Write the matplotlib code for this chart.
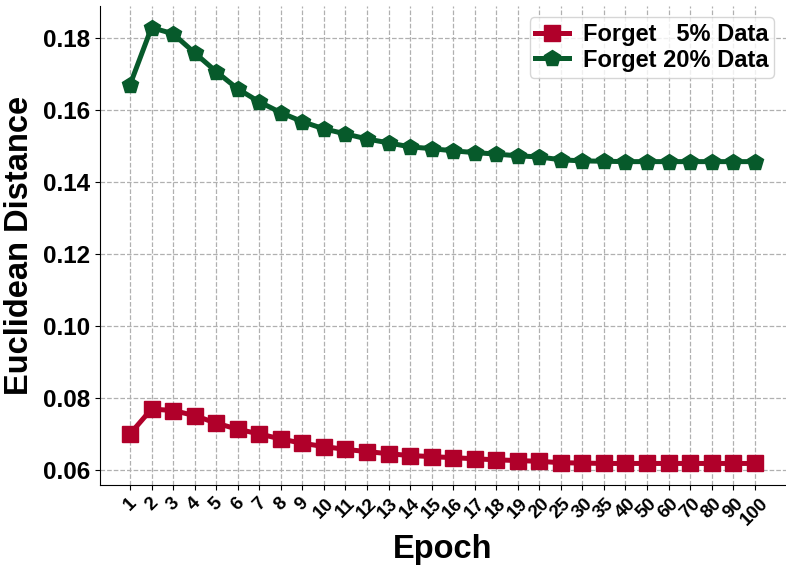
import matplotlib
matplotlib.use('Agg')
import matplotlib.pyplot as plt

plt.rcParams['font.family'] = ['Liberation Sans', 'DejaVu Sans']
plt.rcParams['font.weight'] = 'bold'

# Epochs shown on the x axis (categorical)
epochs = [1, 2, 3, 4, 5, 6, 7, 8, 9, 10, 11, 12, 13, 14, 15, 16, 17, 18, 19, 20,
          25, 30, 35, 40, 50, 60, 70, 80, 90, 100]

# Euclidean distance, forget 5% of data
dist_5 = [0.0700, 0.0769, 0.0765, 0.0751, 0.0730, 0.0713, 0.0700, 0.0686, 0.0674, 0.0665,
          0.0657, 0.0651, 0.0645, 0.0640, 0.0637, 0.0634, 0.0631, 0.0628, 0.0626, 0.0624,
          0.0620, 0.0619, 0.0618, 0.0618, 0.0618, 0.0618, 0.0618, 0.0618, 0.0618, 0.0618]

# Euclidean distance, forget 20% of data
dist_20 = [0.1669, 0.1828, 0.1811, 0.1758, 0.1706, 0.1658, 0.1622, 0.1592, 0.1567, 0.1547,
           0.1533, 0.1519, 0.1508, 0.1497, 0.1492, 0.1486, 0.1481, 0.1477, 0.1472, 0.1469,
           0.1461, 0.1458, 0.1457, 0.1456, 0.1456, 0.1456, 0.1456, 0.1456, 0.1456, 0.1456]

labels = ['Forget   5% Data', 'Forget 20% Data']
red = '#B0002A'
green = '#075A2B'

fig = plt.figure(figsize=(7.86, 5.66), dpi=100)
ax = fig.add_axes([0.127, 0.143, 0.873, 0.847])

x = list(range(len(epochs)))
ax.plot(x, dist_5, color=red, marker='s', markersize=11, linewidth=3.6, label=labels[0])
ax.plot(x, dist_20, color=green, marker='p', markersize=12, linewidth=3.6, label=labels[1])

ax.set_xlim(-1.4, 30.45)
ax.set_ylim(0.0558, 0.1889)
ax.set_xticks(x)
ax.set_xticklabels([str(e) for e in epochs], rotation=45, ha='center', fontsize=13.5, fontweight='bold')
ax.set_yticks([0.06, 0.08, 0.10, 0.12, 0.14, 0.16, 0.18])
ax.set_yticklabels(['0.06', '0.08', '0.10', '0.12', '0.14', '0.16', '0.18'], fontsize=17.5, fontweight='bold')

ax.grid(True, linestyle='--', color='#b0b0b0', linewidth=0.9)
ax.set_axisbelow(True)
ax.spines['top'].set_visible(False)
ax.spines['right'].set_visible(False)

ax.set_xlabel('Epoch', fontsize=23.5, fontweight='bold', labelpad=4)
ax.set_ylabel('Euclidean Distance', fontsize=23.5, fontweight='bold', labelpad=6)

leg = ax.legend(loc='upper right', prop={'size': 17, 'weight': 'bold'},
                handlelength=1.4, handletextpad=0.6, borderpad=0.25, labelspacing=0.1,
                borderaxespad=0.5)

fig.savefig('out.png', dpi=100)
plt.close(fig)
